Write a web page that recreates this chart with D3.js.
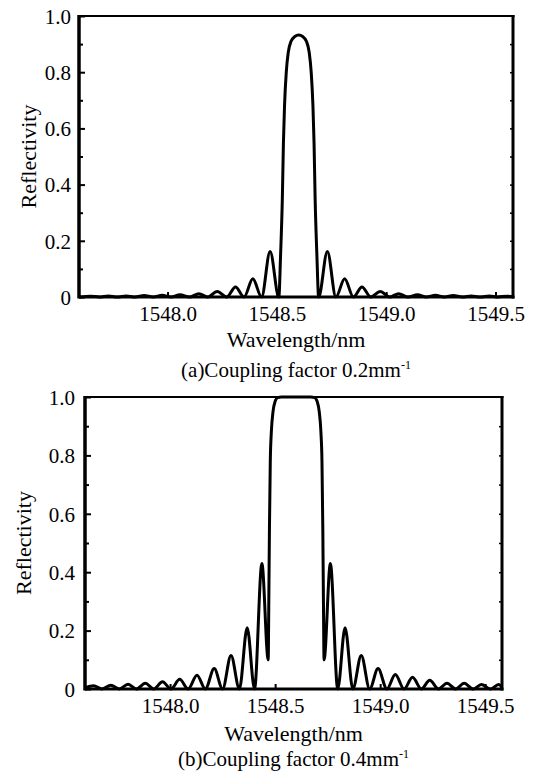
<!DOCTYPE html>
<html>
<head>
<meta charset="utf-8">
<style>
  body { margin: 0; background: #fff; }
  svg text { font-family: "Liberation Serif", "DejaVu Serif", serif !important; fill: #000; }
</style>
</head>
<body>
<div id="chart"></div>

<script src="https://d3js.org/d3.v7.min.js"></script>
<script>

	var w = 534, h = 773;
	var serif = "'Liberation Serif', 'DejaVu Serif', serif";

	// (a) coupling factor 0.2 mm^-1 : wavelength (nm) and reflectivity
	var wlA = [1547.595, 1547.606, 1547.647, 1547.688, 1547.729, 1547.770, 1547.811, 1547.852,
	           1547.893, 1547.934, 1547.975, 1548.016, 1548.057, 1548.100, 1548.143, 1548.185,
	           1548.227, 1548.270, 1548.311, 1548.350, 1548.390, 1548.430, 1548.469, 1548.509,
	           1548.517, 1548.525, 1548.530, 1548.535, 1548.543, 1548.552, 1548.565, 1548.582,
	           1548.600,
	           1548.618, 1548.635, 1548.648, 1548.657, 1548.665, 1548.670, 1548.675, 1548.683,
	           1548.691, 1548.731, 1548.770, 1548.810, 1548.850, 1548.889, 1548.930, 1548.973,
	           1549.015, 1549.057, 1549.100, 1549.143, 1549.184, 1549.225, 1549.266, 1549.307,
	           1549.348, 1549.389, 1549.430, 1549.471, 1549.512, 1549.553, 1549.580];
	var rA  = [0.002, 0, 0.003, 0, 0.004, 0, 0.004, 0,
	           0.005, 0, 0.006, 0, 0.008, 0, 0.012, 0,
	           0.020, 0, 0.036, 0, 0.065, 0, 0.162, 0,
	           0.15, 0.35, 0.55, 0.68, 0.80, 0.87, 0.91, 0.927,
	           0.932,
	           0.927, 0.91, 0.87, 0.80, 0.68, 0.55, 0.35, 0.15,
	           0, 0.162, 0, 0.065, 0, 0.036, 0, 0.020,
	           0, 0.012, 0, 0.008, 0, 0.006, 0, 0.005,
	           0, 0.004, 0, 0.004, 0, 0.003, 0.001];

	// (b) coupling factor 0.4 mm^-1
	var wlB = [1547.594, 1547.636, 1547.676, 1547.718, 1547.758, 1547.800, 1547.840, 1547.882,
	           1547.922, 1547.964, 1548.004, 1548.046, 1548.086, 1548.128, 1548.168, 1548.210,
	           1548.250, 1548.290, 1548.330, 1548.367, 1548.402, 1548.437, 1548.467,
	           1548.470, 1548.473, 1548.477, 1548.482, 1548.490, 1548.500, 1548.512, 1548.530,
	           1548.670, 1548.688, 1548.700, 1548.710, 1548.718, 1548.723, 1548.727, 1548.730,
	           1548.733, 1548.763, 1548.798, 1548.833, 1548.870, 1548.910, 1548.950, 1548.990,
	           1549.032, 1549.072, 1549.114, 1549.154, 1549.196, 1549.236, 1549.278, 1549.318,
	           1549.360, 1549.400, 1549.442, 1549.482, 1549.524, 1549.564, 1549.580];
	var rB  = [0.003, 0.011, 0, 0.013, 0, 0.016, 0, 0.020,
	           0, 0.025, 0, 0.033, 0, 0.047, 0, 0.070,
	           0, 0.115, 0, 0.210, 0, 0.430, 0.100,
	           0.30, 0.55, 0.78, 0.88, 0.95, 0.985, 0.998, 1.0,
	           1.0, 0.998, 0.985, 0.95, 0.88, 0.78, 0.55, 0.30,
	           0.100, 0.430, 0, 0.210, 0, 0.115, 0, 0.070,
	           0, 0.050, 0, 0.040, 0, 0.030, 0, 0.020,
	           0, 0.020, 0, 0.015, 0, 0.015, 0.005];

	var xDomain = [1547.595, 1549.58];
	var xTicks = [1548.0, 1548.5, 1549.0, 1549.5];
	var yTicks = [0, 0.2, 0.4, 0.6, 0.8, 1.0];
	var yMinor = [0.1, 0.3, 0.5, 0.7, 0.9];
	var yRight = [0.1, 0.2, 0.3, 0.4, 0.5, 0.6, 0.7, 0.8, 0.9];
	var xLabel = "Wavelength/nm";
	var yLabel = "Reflectivity";
	var captions = ["(a)Coupling factor 0.2mm", "(b)Coupling factor 0.4mm"];

	var svg = d3.select("#chart")
				.append("svg")
				.attr("width", w)
				.attr("height", h);

	function drawPanel(box, wl, r, caption) {
		var x = d3.scaleLinear().domain(xDomain).range([box.left, box.right]),
			y = d3.scaleLinear().domain([0, 1]).range([box.bottom, box.top]);

		// curve
		var pts = wl.map(function(d, i) { return [d, r[i]]; });
		var line = d3.line()
			.x(function(d) { return x(d[0]); })
			.y(function(d) { return y(d[1]); })
			.curve(d3.curveMonotoneX);
		svg.append("path")
		   .datum(pts)
		   .attr("d", line)
		   .attr("fill", "none")
		   .attr("stroke", "#000")
		   .attr("stroke-width", 3)
		   .attr("stroke-linejoin", "round");

		// y axis, ticks pointing in
		var yAxis = d3.axisLeft(y).tickValues(yTicks).tickSize(-6).tickPadding(box.ypad)
			.tickFormat(function(d) { return d === 0 ? "0" : d3.format(".1f")(d); });
		var gy = svg.append("g")
			.attr("transform", "translate(" + box.left + ",0)")
			.call(yAxis)
			.attr("font-family", null);
		gy.select(".domain").remove();
		gy.selectAll("line").attr("stroke-width", 2);
		gy.selectAll("text").attr("font-size", 21).style("font-family", serif).attr("dy", "0.35em");

		var gym = svg.append("g")
			.attr("transform", "translate(" + box.left + ",0)")
			.call(d3.axisLeft(y).tickValues(yMinor).tickSize(-4).tickFormat(""));
		gym.select(".domain").remove();
		gym.selectAll("line").attr("stroke-width", 2);

		var gyr = svg.append("g")
			.attr("transform", "translate(" + box.right + ",0)")
			.call(d3.axisRight(y).tickValues(yRight).tickSize(-3).tickFormat(""));
		gyr.select(".domain").remove();
		gyr.selectAll("line").attr("stroke-width", 1.5);

		// x axis
		var xAxis = d3.axisBottom(x).tickValues(xTicks).tickSize(-5)
			.tickFormat(d3.format(".1f"));
		var gx = svg.append("g")
			.attr("transform", "translate(0," + box.bottom + ")")
			.call(xAxis)
			.attr("font-family", null);
		gx.select(".domain").remove();
		gx.selectAll("line").attr("stroke-width", 2);
		gx.selectAll("text").attr("font-size", 21).style("font-family", serif)
		  .attr("y", box.xpad).attr("dy", 0);

		// frame
		svg.append("line").attr("x1", box.left).attr("x2", box.left)
		   .attr("y1", box.top - 1).attr("y2", box.bottom + 1.5)
		   .attr("stroke", "#000").attr("stroke-width", 3.5);
		svg.append("line").attr("x1", box.left).attr("x2", box.right + 1.5)
		   .attr("y1", box.bottom).attr("y2", box.bottom)
		   .attr("stroke", "#000").attr("stroke-width", 3);
		svg.append("line").attr("x1", box.left).attr("x2", box.right + 1.5)
		   .attr("y1", box.top).attr("y2", box.top)
		   .attr("stroke", "#000").attr("stroke-width", 2);
		svg.append("line").attr("x1", box.right).attr("x2", box.right)
		   .attr("y1", box.top - 1).attr("y2", box.bottom + 1.5)
		   .attr("stroke", "#000").attr("stroke-width", 3);

		// axis titles
		var cx = (box.left + box.right) / 2;
		svg.append("text")
		   .attr("x", cx).attr("y", box.bottom + box.titlepad)
		   .attr("text-anchor", "middle").attr("font-size", 22)
		   .style("font-family", serif)
		   .text(xLabel);
		svg.append("text")
		   .attr("transform", "translate(" + box.ylx + "," + (box.top + box.bottom) / 2 + ") rotate(-90)")
		   .attr("text-anchor", "middle").attr("font-size", 22)
		   .style("font-family", serif)
		   .text(yLabel);

		// caption with superscript
		var cap = svg.append("text")
		   .attr("x", cx).attr("y", box.bottom + box.cappad)
		   .attr("text-anchor", "middle").attr("font-size", 21)
		   .style("font-family", serif);
		cap.append("tspan").text(caption);
		cap.append("tspan").attr("dy", -8).attr("font-size", 12).text("-1");
	}

	drawPanel({left: 79, right: 513, top: 16, bottom: 297, ypad: 8, xpad: 24, titlepad: 50, cappad: 80, ylx: 36},
		wlA, rA, captions[0]);
	drawPanel({left: 85, right: 502, top: 397, bottom: 689, ypad: 10, xpad: 24, titlepad: 52, cappad: 77, ylx: 31},
		wlB, rB, captions[1]);

</script>
</body>
</html>
